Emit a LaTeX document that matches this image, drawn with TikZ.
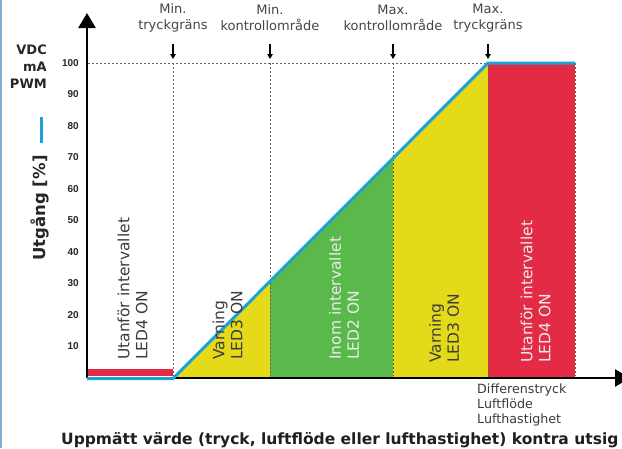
\documentclass[tikz,border=0pt]{standalone}
\usepackage{fontspec}
\setmainfont{DejaVu Sans}
\newfontfamily\tickfont{Liberation Sans}
\usetikzlibrary{arrows.meta}
\definecolor{cyel}{RGB}{228,218,25}
\definecolor{cgreen}{RGB}{90,185,75}
\definecolor{cred}{RGB}{228,43,70}
\definecolor{cblue}{RGB}{27,163,215}
\definecolor{cdash}{RGB}{105,98,62}
\definecolor{cborder}{RGB}{130,175,210}
\definecolor{ctext}{RGB}{60,60,60}
\definecolor{ctop}{RGB}{70,70,70}
\tikzset{
  guide/.style={cdash, line width=0.8pt, dash pattern=on 2pt off 2pt},
  axisline/.style={black, line width=2.5pt},
  outline/.style={cblue, line width=3pt},
  ticklbl/.style={anchor=east, inner sep=0pt, font=\tickfont\bfseries\fontsize{10}{12}\selectfont, text=black!85},
  toplbl/.style={align=center, inner sep=0pt, text=ctop, font=\fontsize{13}{16}\selectfont},
  zonelbl/.style={rotate=90, anchor=west, align=left, inner sep=0pt, font=\fontsize{15.5}{18}\selectfont},
  downarrow/.style={-{Triangle[length=5pt,width=5.5pt]}, line width=1.3pt, black},
}
\begin{document}
\begin{tikzpicture}[x=1pt,y=-1pt]
\useasboundingbox (0,0) rectangle (622,448);
\fill[white] (0,0) rectangle (622,448);
\fill[cborder] (0,0) rectangle (2,448);

% coloured zones
\fill[cyel] (173,378) -- (270,281) -- (270,378) -- cycle;
\fill[cgreen] (270,378) -- (270,281) -- (393,158) -- (393,378) -- cycle;
\fill[cyel] (393,378) -- (393,158) -- (488,63) -- (488,378) -- cycle;
\fill[cred] (488,63) rectangle (575,378);
\fill[cred] (88,369) rectangle (173,376);

% guide lines
\coordinate (g0) at (88,63);
\foreach \n/\x in {a/173,b/270,c/393,d/488,e/575}{
  \coordinate (t\n) at (\x,63);
  \coordinate (b\n) at (\x,376);
}
\draw[guide] (g0) -- (td);
\foreach \n in {a,b,c,d,e}{ \draw[guide] (t\n) -- (b\n); }

% axes
\coordinate (o) at (87,378);
\coordinate (xend) at (630,378);
\coordinate (yend) at (87,13);
\draw[axisline, -{Triangle[length=15pt,width=17pt]}] (o) -- (xend);
\draw[axisline, -{Triangle[length=15pt,width=17pt]}] (o) -- (yend);

% output curve
\coordinate (c1) at (87,378.5);
\coordinate (c2) at (173,378.5);
\coordinate (c3) at (488,63);
\coordinate (c4) at (575,63);
\draw[outline, line join=miter] (c1) -- (c2) -- (c3) -- (c4);

% y tick labels
\foreach \v in {10,20,...,100}{
  \node[ticklbl] (tk\v) at (79,{378-3.15*\v}) {\v};
}

% y axis titles
\node[align=right, anchor=east, inner sep=0pt, font=\bfseries\fontsize{13}{17}\selectfont, text=black!85] (units) at (47,67) {VDC\\mA\\PWM};
\coordinate (lg1) at (41,117);
\coordinate (lg2) at (41,143);
\draw[cblue, line width=3pt] (lg1) -- (lg2);
\node[rotate=90, inner sep=0pt, font=\bfseries\fontsize{16.5}{20}\selectfont, text=black!85] (ytitle) at (40,208) {Utgång [\%]};

% top labels and arrows
\node[toplbl] (l1) at (173,18) {Min.\\tryckgräns};
\node[toplbl] (l2) at (270,18) {Min.\\kontrollområde};
\node[toplbl] (l3) at (393,18) {Max.\\kontrollområde};
\node[toplbl] (l4) at (488,18) {Max.\\tryckgräns};
\foreach \i/\x in {1/173,2/270,3/393,4/488}{
  \coordinate (as\i) at (\x,44);
  \coordinate (ae\i) at (\x,59);
  \draw[downarrow] (as\i) -- (ae\i);
}

% zone labels
\node[zonelbl, text=ctext] (z1) at (132.5,360) {Utanför intervallet\\LED4 ON};
\node[zonelbl, text=ctext] (z2) at (227.5,360) {Varning\\LED3 ON};
\node[zonelbl, text=white!92!black] (z3) at (344,360) {Inom intervallet\\LED2 ON};
\node[zonelbl, text=ctext] (z4) at (444,363) {Varning\\LED3 ON};
\node[zonelbl, text=white!92!black] (z5) at (535.5,363) {Utanför intervallet\\LED4 ON};

% x axis labels
\node[anchor=north west, align=left, inner sep=0pt, text=ctext, font=\fontsize{12.7}{15}\selectfont] (xl) at (477,384) {Differenstryck\\Luftflöde\\Lufthastighet};
\node[anchor=west, inner sep=0pt, font=\bfseries\fontsize{15.5}{18}\selectfont, text=black!88] (title) at (61,440) {Uppmätt värde (tryck, luftflöde eller lufthastighet) kontra utsig};
\end{tikzpicture}
\end{document}
